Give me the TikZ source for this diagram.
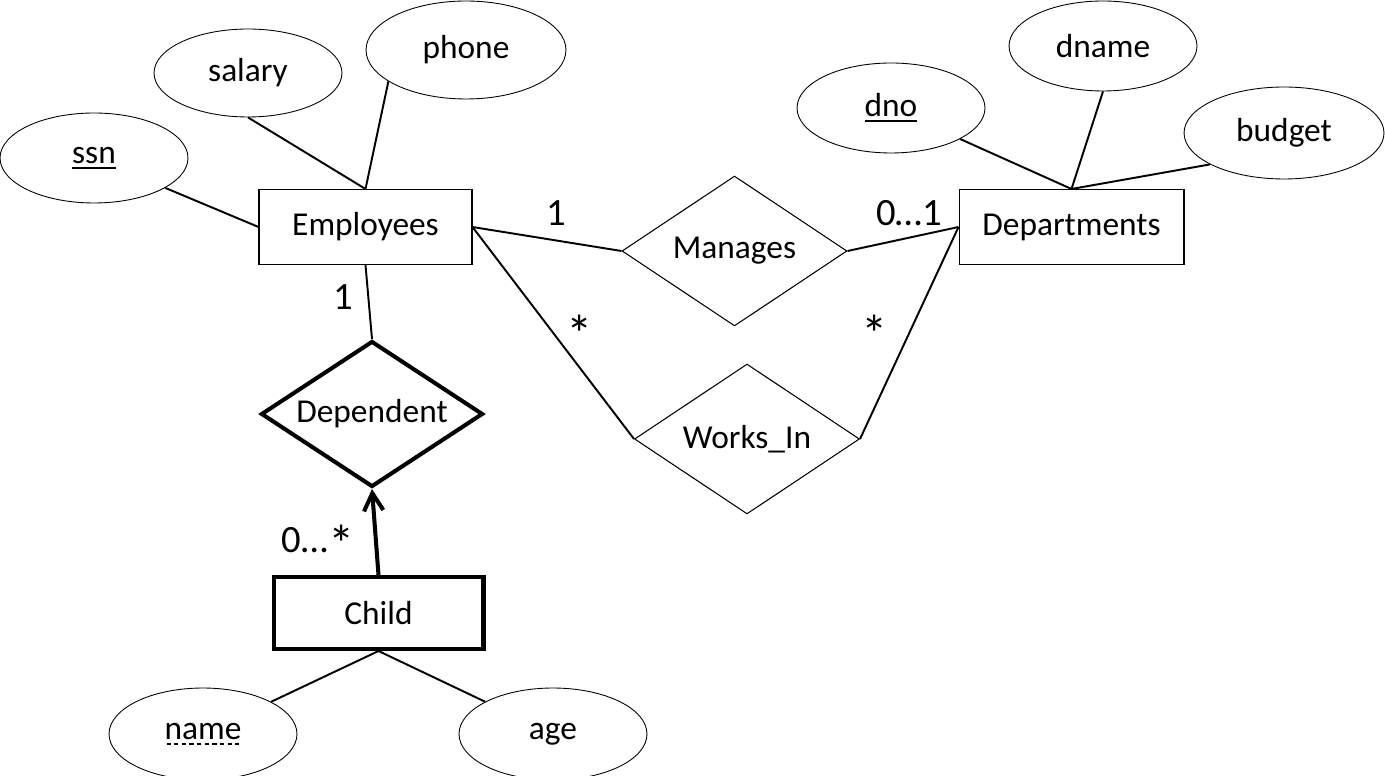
\documentclass[tikz,border=0pt]{standalone}
\usepackage{fontspec}
\setmainfont{Carlito}
\usetikzlibrary{positioning, arrows.meta, shapes.geometric}
\newcommand{\keyuline}[1]{\setbox0\hbox{#1}\rlap{\raisebox{-3pt}{\vrule height 1pt width \wd0}}\box0}
\newcommand{\partuline}[1]{\setbox0\hbox{#1}\rlap{\raisebox{-3pt}{\hbox to \wd0{\xleaders\hbox to 4pt{\hss\vrule height 0.8pt width 2.4pt\hss}\hfil}}}\box0}
\newcommand{\bigstar}{{\fontsize{30}{30}\selectfont\raisebox{-6pt}{*}}}
\tikzset{
    entity/.style={
        rectangle,
        draw=black,
        line width=0.6pt,
        minimum height=1.5cm,
        inner sep=0pt
    },
    relation/.style={
        diamond,
        aspect=1.5,
        draw=black,
        line width=0.6pt,
        minimum width=4.5cm,
        minimum height=3cm,
        inner sep=0pt
    },
    attribute/.style={
        ellipse,
        draw=black,
        line width=0.5pt,
        minimum width=3.76cm,
        minimum height=1.8cm,
        inner sep=0pt
    },
    link/.style={
        line width=1.1pt
    },
    weak/.style={
        line width=2.3pt
    },
    mult/.style={
        font=\fontsize{22}{26}\selectfont
    }
}

\begin{document}
\begin{tikzpicture}[
        x=0.02cm, y=-0.02cm,
        every node/.style={font=\fontsize{19}{23}\selectfont},
        >={Straight Barb[length=10pt,width=11pt]}
      ]
      \useasboundingbox (0,0) rectangle (1385,776);

      \node[entity, minimum width=4.26cm] (emp)  at (365.5, 227) {Employees};
      \node[entity, minimum width=4.5cm]  (dept) at (1071.5, 227) {Departments};
      \node[entity, weak, minimum width=4.2cm, minimum height=1.44cm] (child) at (378.5, 613) {Child};

      \node[relation] (manages) at (734.5, 251) {Manages};
      \node[relation] (worksin) at (747, 439)    {Works\_In};
      \node[relation, weak, minimum width=4.44cm, minimum height=2.92cm] (dep) at (372, 414) {Dependent};

      \node[attribute] (ssn)    at (94, 158)   {\keyuline{ssn}};
      \node[attribute, minimum height=1.76cm] (salary) at (248, 73) {salary};
      \node[attribute, minimum width=4cm, minimum height=1.96cm] (phone) at (466, 50) {phone};
      \node[attribute] (dno)    at (891, 108)  {\keyuline{dno}};
      \node[attribute] (dname)  at (1103, 46)  {dname};
      \node[attribute, minimum width=4cm, minimum height=1.84cm] (budget) at (1284, 133) {budget};
      \node[attribute, minimum height=1.84cm] (cname) at (203, 734) {\partuline{name}};
      \node[attribute, minimum height=1.84cm] (age)   at (553, 734) {age};

      \node[mult] (m1) at (556, 213) {1};
      \node[mult] (m2) at (909, 213) {0…1};
      \node[mult] (m3) at (580, 334) {\bigstar};
      \node[mult] (m4) at (875, 334) {\bigstar};
      \node[mult] (m5) at (343, 297) {1};
      \node[mult] (m6) at (318, 544) {0…\bigstar};

      \draw[link] (ssn) -- (emp.west);
      \draw[link] (salary.south) -- (emp.north);
      \draw[link] (phone.202) -- (emp.north);
      \draw[link] (dno) -- (dept.north);
      \draw[link] (dname.south) -- (dept.north);
      \draw[link] (budget.203) -- (dept.north);
      \draw[link] (cname) -- (child.south);
      \draw[link] (age) -- (child.south);

      \draw[link] (emp.east) -- (manages.west);
      \draw[link] (manages.east) -- (dept.west);
      \draw[link] (emp.east) -- (worksin.west);
      \draw[link] (worksin.east) -- (dept.west);
      \draw[link] (emp.south) -- (dep.north);
      \draw[weak, ->] (child.north) -- (dep.south);
    \end{tikzpicture}
\end{document}
